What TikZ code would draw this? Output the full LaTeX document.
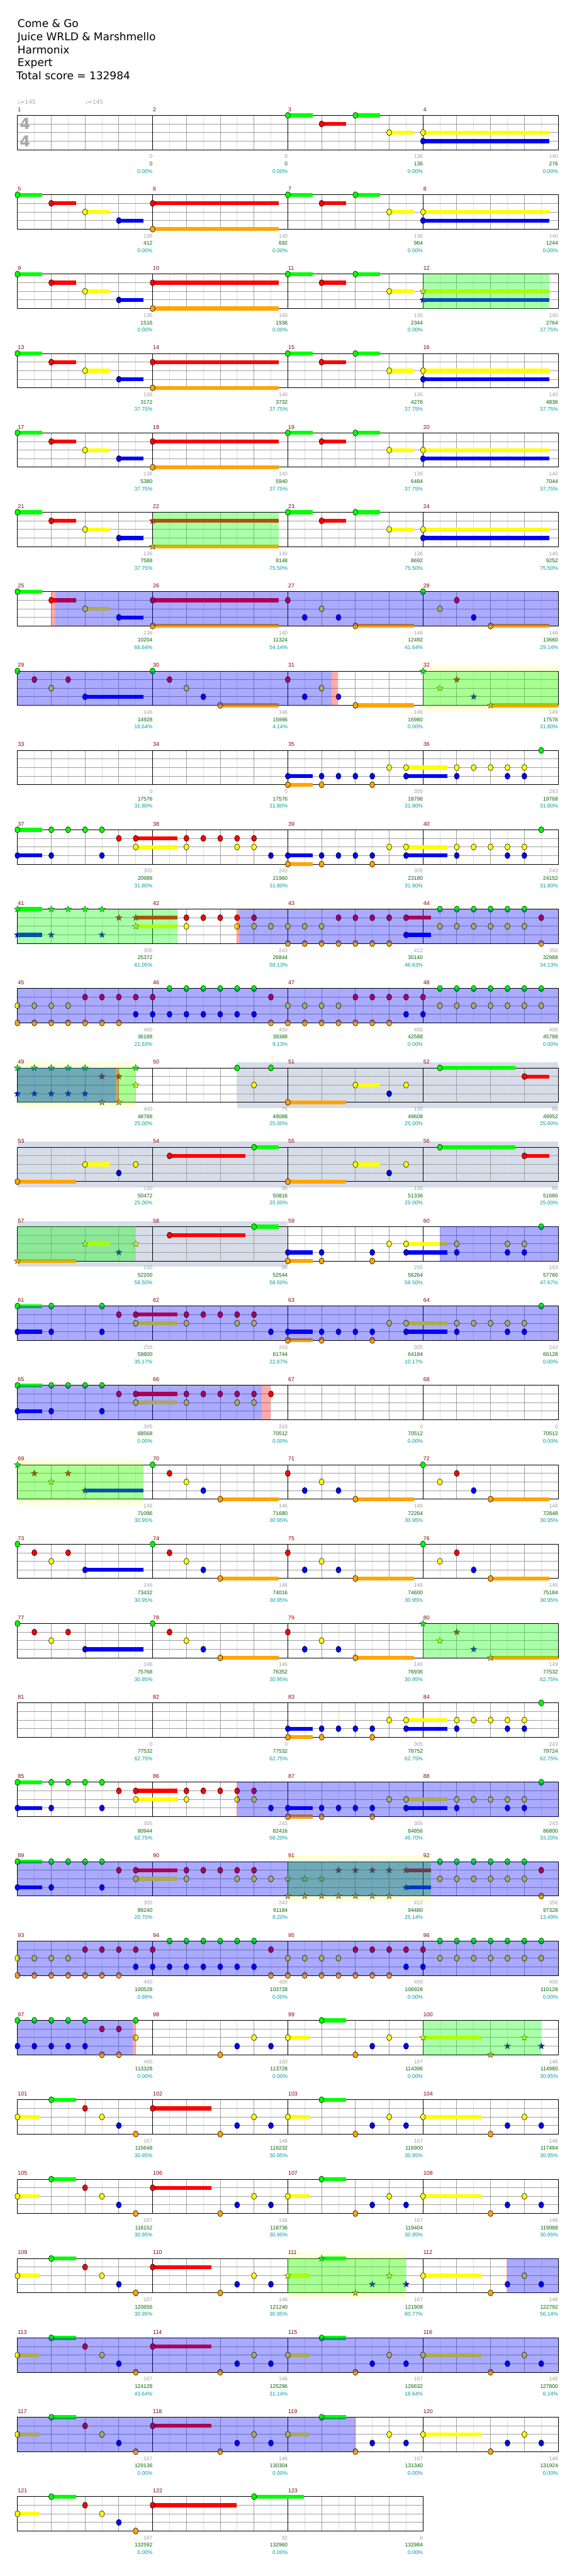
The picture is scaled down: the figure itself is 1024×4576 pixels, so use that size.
\documentclass[tikz,border=0pt]{standalone}
\usepackage{fontspec}
\setmainfont{DejaVu Sans}
\newfontfamily\scf{Liberation Sans}
\usetikzlibrary{shapes.geometric}
\definecolor{cG}{RGB}{0,255,0}
\definecolor{cR}{RGB}{255,0,0}
\definecolor{cY}{RGB}{255,255,0}
\definecolor{cB}{RGB}{0,0,255}
\definecolor{cO}{RGB}{255,165,0}
\definecolor{lgt}{RGB}{222,222,222}
\definecolor{med}{RGB}{160,160,160}
\definecolor{bgy}{RGB}{255,255,218}
\definecolor{bgb}{RGB}{214,221,232}
\definecolor{mred}{RGB}{139,0,0}
\definecolor{sgr}{RGB}{160,160,160}
\definecolor{sgn}{RGB}{0,100,0}
\definecolor{stl}{RGB}{0,155,155}
\definecolor{tgr}{RGB}{168,168,168}
\tikzset{
 lgtline/.style={draw=lgt, line width=0.8pt},
 medline/.style={draw=med, line width=1pt},
 barline/.style={draw=black, line width=1pt},
 notebody/.style={draw=black, line width=0.6pt},
 starbody/.style={star, star points=5, star point ratio=2.4, minimum size=12pt, inner sep=0pt, draw=black!75, line width=0.5pt},
 mnum/.style={anchor=base west, text=mred, font=\scf\fontsize{10}{10}\selectfont, inner sep=0pt},
 sc/.style={anchor=base east, font=\scf\fontsize{9.5}{10}\selectfont, inner sep=0pt},
 title/.style={anchor=base west, inner sep=0pt, font=\fontsize{19}{23}\selectfont},
 tempo/.style={anchor=west, inner sep=0pt, text=sgr, font=\fontsize{10}{10}\selectfont},
}
\newcommand\Nt[3]{\foreach \k in {#3}{\draw[notebody,fill=#2] (\k,#1) ellipse [x radius=4.5pt, y radius=5.5pt];}}
\newcommand\Su[4]{\fill[#2] ([yshift=3.5pt]#3,#1) rectangle ([yshift=-3.5pt]#4,#1);\draw[notebody,fill=#2] (#3,#1) ellipse [x radius=4.5pt, y radius=5.5pt];}
\newcommand\St[3]{\foreach \k in {#3}{\node[starbody,fill=#2] at (\k,#1) {};}}
\newcommand\Sst[4]{\fill[#2] ([yshift=3.5pt]#3,#1) rectangle ([yshift=-3.5pt]#4,#1);\node[starbody,fill=#2] at (#3,#1) {};}
\newcommand\Ov[3]{\fill[#1,opacity=0.3333] (#2,0) rectangle (#3,4);}
\newcommand\Bg[3]{\fill[#1] ([yshift=10pt]#2,0) rectangle ([yshift=-10pt]#3,4);}
\newcommand\Sco[4]{\node[sc,text=sgr] at ([yshift=-15.5pt]#1,4) {#2};\node[sc,text=sgn] at ([yshift=-28.5pt]#1,4) {#3};\node[sc,text=stl] at ([yshift=-41.5pt]#1,4) {#4\%};}
\newcommand\Staff[2]{%
 \pgfmathtruncatemacro\Ne{8*#1}%
 \pgfmathtruncatemacro\Nl{8*#1-1}%
 \foreach \i in {1,3,...,\Nl}{\draw[lgtline] (\i,0)--(\i,4);}%
 \foreach \i in {2,4,6,10,12,14,18,20,22,26,28,30}{\ifnum\i<\Ne \draw[medline] (\i,0)--(\i,4);\fi}%
 \foreach \j in {1,2,3}{\draw[medline] (0,\j)--(\Ne,\j);}%
 \foreach \i in {8,16,...,\Nl}{\draw[barline] (\i,0)--(\i,4);}%
 \draw[barline] (0,0) rectangle (\Ne,4);%
 \foreach \m in {1,...,#1}{\pgfmathtruncatemacro\mm{#2+\m-1}\pgfmathtruncatemacro\mx{8*(\m-1)}\node[mnum] at ([xshift=0.5pt,yshift=7pt]\mx,0) {\mm};}%
}
\newcommand\PatAa{\Su0{cG}{0}{1.46}\Su1{cR}{2}{3.46}\Su2{cY}{4}{5.46}\Su3{cB}{6}{7.46}}
\newcommand\PatAb{\Su1{cR}{8}{15.46}\Su4{cO}{8}{15.46}}
\newcommand\PatBa{\Su0{cG}{16}{17.46}\Su1{cR}{18}{19.46}\Su0{cG}{20}{21.46}\Su2{cY}{22}{23.46}}
\newcommand\PatBb{\Su2{cY}{24}{31.46}\Su3{cB}{24}{31.46}}
\newcommand\PatCa{\Nt0{cG}{0}\Nt1{cR}{1,3}\Nt2{cY}{2}\Su3{cB}{4}{7.46}}
\newcommand\PatCb{\Nt0{cG}{8}\Nt1{cR}{9}\Nt2{cY}{10}\Nt3{cB}{11}\Su4{cO}{12}{15.46}}
\newcommand\PatDa{\Nt1{cR}{16}\Nt3{cB}{17,19}\Nt2{cY}{18}\Su4{cO}{20}{23.46}}
\newcommand\PatDb{\Nt0{cG}{24}\Nt2{cY}{25}\Nt1{cR}{26}\Nt3{cB}{27}\Su4{cO}{28}{31.46}}
\newcommand\PatE{\Su3{cB}{16}{17.46}\Nt3{cB}{18,19,20,21}\Su4{cO}{16}{17.46}\Nt4{cO}{18,21}\Nt2{cY}{22}\Su2{cY}{23}{25.46}\Su3{cB}{23}{25.46}\Nt2{cY}{26,27,28,29,30}\Nt3{cB}{26,29,30}\Nt0{cG}{31}}
\newcommand\PatF{\Su0{cG}{0}{1.46}\Nt0{cG}{2,3,4,5}\Nt1{cR}{6}\Su1{cR}{7}{9.46}\Nt1{cR}{10,11,12,13,14}\Su2{cY}{7}{9.46}\Nt2{cY}{10,13,14}\Su3{cB}{0}{1.46}\Nt3{cB}{2,5,15}}
\newcommand\PatH{\Nt2{cY}{16,17,18}\Nt4{cO}{16,17,18,19,20,21,22}\Nt1{cR}{19,20,21,22}\Su1{cR}{23}{24.46}\Su3{cB}{23}{24.46}\Nt0{cG}{25,26,27,28,29,30}\Nt2{cY}{25,26,27,28,29,30}\Nt1{cR}{31}\Nt4{cO}{31}}
\newcommand\PatI{\Nt2{cY}{0,1,2,3}\Nt4{cO}{0,1,2,3,4,5,6}\Nt1{cR}{4,5,6,7,8}\Nt3{cB}{7,8,9,10,11,12,13,14}\Nt0{cG}{9,10,11,12,13,14}\Nt1{cR}{15}\Nt4{cO}{15}\Nt2{cY}{16,17,18,19}\Nt4{cO}{16,17,18,19,20,21,22}\Nt1{cR}{20,21,22,23,24}\Nt3{cB}{23,24}\Nt0{cG}{25,26,27,28,29,30,31}\Nt2{cY}{25,26,27,28,29,30,31}}
\newcommand\PatJa{\Su2{cY}{0}{1.33}\Su0{cG}{2}{3.46}\Nt1{cR}{4}\Nt2{cY}{5}\Nt3{cB}{6}\Nt4{cO}{7}\Su1{cR}{8}{11.48}\Nt4{cO}{12}\Nt3{cB}{13,15}\Nt2{cY}{14}}
\newcommand\PatJb{\Su2{cY}{16}{17.3}\Su0{cG}{18}{19.46}\Nt4{cO}{20}\Nt3{cB}{21,23}\Nt2{cY}{22}}
\newcommand\PatJc{\Su2{cY}{24}{27.46}\Nt4{cO}{28}\Nt3{cB}{29,31}\Nt2{cY}{30}}
\newcommand\PatK{\Su4{cO}{16}{19.46}\Su2{cY}{20}{21.46}\Nt3{cB}{22}\Nt2{cY}{23}\Su0{cG}{25}{29.46}\Su1{cR}{30}{31.46}}
\begin{document}
\begin{tikzpicture}
\useasboundingbox[fill=white] (0,0) rectangle (1024pt,-4576pt);
% header
\node[title] (t1) at (31pt,-49pt) {Come \& Go};
\node[title] (t2) at (31pt,-72pt) {Juice WRLD \& Marshmello};
\node[title] (t3) at (31pt,-95pt) {Harmonix};
\node[title] (t4) at (31pt,-118pt) {Expert};
\node[title] (t5) at (29pt,-141pt) {Total score = 132984};
\node[tempo] (tp1) at (31pt,-181pt) {♩=145};
\node[tempo] (tp2) at (151pt,-181pt) {♩=145};
% row 1
\begin{scope}[shift={(31pt,-205pt)},x=30pt,y=-15.25pt]
\Staff{4}{1}
\node[text=tgr,font=\bfseries\fontsize{27}{27}\selectfont,inner sep=0pt] (ts1) at (0.45,1) {4};
\node[text=tgr,font=\bfseries\fontsize{27}{27}\selectfont,inner sep=0pt] (ts2) at (0.45,3) {4};
\PatBa\PatBb
\Sco{8}{0}{0}{0.00}\Sco{16}{0}{0}{0.00}\Sco{24}{136}{136}{0.00}\Sco{32}{140}{276}{0.00}
\end{scope}
% row 2
\begin{scope}[shift={(31pt,-346pt)},x=30pt,y=-15.25pt]
\Staff{4}{5}\PatAa\PatAb\PatBa\PatBb
\Sco{8}{136}{412}{0.00}\Sco{16}{140}{692}{0.00}\Sco{24}{136}{964}{0.00}\Sco{32}{140}{1244}{0.00}
\end{scope}
% row 3
\begin{scope}[shift={(31pt,-487pt)},x=30pt,y=-15.25pt]
\Staff{4}{9}\PatAa\PatAb\PatBa\Sst2{cY}{24}{31.46}\Sst3{cB}{24}{31.46}
\Ov{cG}{24}{31.46}
\Sco{8}{136}{1516}{0.00}\Sco{16}{140}{1936}{0.00}\Sco{24}{136}{2344}{0.00}\Sco{32}{140}{2764}{37.75}
\end{scope}
% row 4
\begin{scope}[shift={(31pt,-628pt)},x=30pt,y=-15.25pt]
\Staff{4}{13}\PatAa\PatAb\PatBa\PatBb
\Sco{8}{136}{3172}{37.75}\Sco{16}{140}{3732}{37.75}\Sco{24}{136}{4276}{37.75}\Sco{32}{140}{4836}{37.75}
\end{scope}
% row 5
\begin{scope}[shift={(31pt,-769pt)},x=30pt,y=-15.25pt]
\Staff{4}{17}\PatAa\PatAb\PatBa\PatBb
\Sco{8}{136}{5380}{37.75}\Sco{16}{140}{5940}{37.75}\Sco{24}{136}{6484}{37.75}\Sco{32}{140}{7044}{37.75}
\end{scope}
% row 6
\begin{scope}[shift={(31pt,-910pt)},x=30pt,y=-15.25pt]
\Staff{4}{21}\PatAa\Sst1{cR}{8}{15.46}\Sst4{cO}{8}{15.46}\PatBa\PatBb
\Ov{cG}{8}{15.46}
\Sco{8}{136}{7588}{37.75}\Sco{16}{140}{8148}{75.50}\Sco{24}{136}{8692}{75.50}\Sco{32}{140}{9252}{75.50}
\end{scope}
% row 7
\begin{scope}[shift={(31pt,-1051pt)},x=30pt,y=-15.25pt]
\Staff{4}{25}\PatAa\PatAb\PatDa\PatDb
\Ov{cR}{2}{2.26}\Ov{cB}{2.26}{32}
\Sco{8}{136}{10204}{66.64}\Sco{16}{140}{11324}{54.14}\Sco{24}{146}{12492}{41.64}\Sco{32}{146}{13660}{29.14}
\end{scope}
% row 8
\begin{scope}[shift={(31pt,-1192pt)},x=30pt,y=-15.25pt]
\Bg{bgy}{24}{32}
\Staff{4}{29}\PatCa\PatCb\PatDa\St0{cG}{24}\St2{cY}{25}\St1{cR}{26}\St3{cB}{27}\Sst4{cO}{28}{32}
\Ov{cB}{0}{18.6}\Ov{cR}{18.6}{18.96}\Ov{cG}{24}{32}
\Sco{8}{146}{14928}{16.64}\Sco{16}{146}{15996}{4.14}\Sco{24}{146}{16980}{0.00}\Sco{32}{149}{17576}{31.80}
\end{scope}
% row 9
\begin{scope}[shift={(31pt,-1333pt)},x=30pt,y=-15.25pt]
\Staff{4}{33}\PatE
\Sco{8}{0}{17576}{31.80}\Sco{16}{0}{17576}{31.80}\Sco{24}{305}{18796}{31.80}\Sco{32}{243}{19768}{31.80}
\end{scope}
% row 10
\begin{scope}[shift={(31pt,-1474pt)},x=30pt,y=-15.25pt]
\Staff{4}{37}\PatF\PatE
\Sco{8}{305}{20988}{31.80}\Sco{16}{243}{21960}{31.80}\Sco{24}{305}{23180}{31.80}\Sco{32}{243}{24152}{31.80}
\end{scope}
% row 11
\begin{scope}[shift={(31pt,-1615pt)},x=30pt,y=-15.25pt]
\Staff{4}{41}
\Sst0{cG}{0}{1.46}\St0{cG}{2,3,4,5}\St1{cR}{6}\Sst1{cR}{7}{9.46}\Sst2{cY}{7}{9.46}\Sst3{cB}{0}{1.46}\St3{cB}{2,5}
\Nt1{cR}{10,11,12,13,14}\Nt2{cY}{10,13,14,15}\PatH
\Ov{cG}{0}{9.48}\Ov{cR}{12.97}{13.1}\Ov{cB}{13.1}{32}
\Sco{8}{305}{25372}{61.05}\Sco{16}{243}{26844}{59.13}\Sco{24}{412}{30140}{46.63}\Sco{32}{356}{32988}{34.13}
\end{scope}
% row 12
\begin{scope}[shift={(31pt,-1756pt)},x=30pt,y=-15.25pt]
\Staff{4}{45}\PatI
\Ov{cB}{0}{32}
\Sco{8}{400}{36188}{21.63}\Sco{16}{400}{39388}{9.13}\Sco{24}{400}{42588}{0.00}\Sco{32}{400}{45788}{0.00}
\end{scope}
% row 13
\begin{scope}[shift={(31pt,-1897pt)},x=30pt,y=-15.25pt]
\Bg{bgy}{0}{7}\Bg{bgb}{13}{32}
\Staff{4}{49}
\St0{cG}{0,1,2,3,4,7}\St3{cB}{0,1,2,3,4}\St1{cR}{5,6}\St2{cY}{7}\St4{cO}{5,6}
\Nt0{cG}{13,15}\Nt2{cY}{14}\PatK
\Ov{cG}{0}{7}\Ov{cB}{0}{5.83}\Ov{cR}{5.83}{6}
\Sco{8}{400}{48788}{25.00}\Sco{16}{75}{49088}{25.00}\Sco{24}{130}{49608}{25.00}\Sco{32}{86}{49952}{25.00}
\end{scope}
% row 14
\begin{scope}[shift={(31pt,-2038pt)},x=30pt,y=-15.25pt]
\Bg{bgb}{0}{32}
\Staff{4}{53}
\Su4{cO}{0}{3.48}\Su2{cY}{4}{5.48}\Nt3{cB}{6}\Nt2{cY}{7}\Su1{cR}{9}{13.48}\Su0{cG}{14}{15.46}\PatK
\Sco{8}{130}{50472}{25.00}\Sco{16}{86}{50816}{25.00}\Sco{24}{130}{51336}{25.00}\Sco{32}{86}{51680}{25.00}
\end{scope}
% row 15
\begin{scope}[shift={(31pt,-2179pt)},x=30pt,y=-15.25pt]
\Bg{bgb}{0}{16}
\Staff{4}{57}
\Sst4{cO}{0}{3.48}\Sst2{cY}{4}{5.48}\St3{cB}{6}\St2{cY}{7}\Su1{cR}{9}{13.48}\Su0{cG}{14}{15.46}
\Su3{cB}{16}{17.46}\Nt3{cB}{18,21}\Su4{cO}{16}{17.46}\Nt4{cO}{18,21}\Nt2{cY}{22}\Su2{cY}{23}{25.46}\Su3{cB}{23}{25.46}\Nt2{cY}{26,29,30}\Nt3{cB}{26,29,30}\Nt0{cG}{31}
\Ov{cG}{0}{7}\Ov{cB}{25}{32}
\Sco{8}{130}{52200}{58.50}\Sco{16}{86}{52544}{58.50}\Sco{24}{255}{56264}{58.50}\Sco{32}{193}{57760}{47.67}
\end{scope}
% row 16
\begin{scope}[shift={(31pt,-2320pt)},x=30pt,y=-15.25pt]
\Staff{4}{61}
\Su0{cG}{0}{1.46}\Nt0{cG}{2,5}\Nt1{cR}{6}\Su1{cR}{7}{9.46}\Nt1{cR}{10,11,12,13,14}\Su2{cY}{7}{9.46}\Nt2{cY}{10,13,14}\Su3{cB}{0}{1.46}\Nt3{cB}{2,5,15}\PatE
\Ov{cB}{0}{32}
\Sco{8}{255}{59800}{35.17}\Sco{16}{243}{61744}{22.67}\Sco{24}{305}{64184}{10.17}\Sco{32}{243}{66128}{0.00}
\end{scope}
% row 17
\begin{scope}[shift={(31pt,-2461pt)},x=30pt,y=-15.25pt]
\Staff{4}{65}
\Su0{cG}{0}{1.46}\Nt0{cG}{2,3,4,5}\Nt1{cR}{6}\Su1{cR}{7}{9.46}\Nt1{cR}{10,11,12,13,14,15}\Su2{cY}{7}{9.46}\Nt2{cY}{10,13,14}\Su3{cB}{0}{1.46}\Nt3{cB}{2,5}
\Ov{cB}{0}{14.46}\Ov{cR}{14.46}{14.98}
\Sco{8}{305}{68568}{0.00}\Sco{16}{243}{70512}{0.00}\Sco{24}{0}{70512}{0.00}\Sco{32}{0}{70512}{0.00}
\end{scope}
% row 18
\begin{scope}[shift={(31pt,-2602pt)},x=30pt,y=-15.25pt]
\Bg{bgy}{0}{7.46}
\Staff{4}{69}
\St0{cG}{0}\St1{cR}{1,3}\St2{cY}{2}\Sst3{cB}{4}{7.46}\PatCb\PatDa\PatDb
\Ov{cG}{0}{7.46}
\Sco{8}{146}{71096}{30.95}\Sco{16}{146}{71680}{30.95}\Sco{24}{146}{72264}{30.95}\Sco{32}{146}{72848}{30.95}
\end{scope}
% row 19
\begin{scope}[shift={(31pt,-2743pt)},x=30pt,y=-15.25pt]
\Staff{4}{73}\PatCa\PatCb\PatDa\PatDb
\Sco{8}{146}{73432}{30.95}\Sco{16}{146}{74016}{30.95}\Sco{24}{146}{74600}{30.95}\Sco{32}{146}{75184}{30.95}
\end{scope}
% row 20
\begin{scope}[shift={(31pt,-2884pt)},x=30pt,y=-15.25pt]
\Staff{4}{77}\PatCa\PatCb\PatDa\St0{cG}{24}\St2{cY}{25}\St1{cR}{26}\St3{cB}{27}\Sst4{cO}{28}{32}
\Ov{cG}{24}{32}
\Sco{8}{146}{75768}{30.95}\Sco{16}{146}{76352}{30.95}\Sco{24}{146}{76936}{30.95}\Sco{32}{149}{77532}{62.75}
\end{scope}
% row 21
\begin{scope}[shift={(31pt,-3025pt)},x=30pt,y=-15.25pt]
\Staff{4}{81}\PatE
\Sco{8}{0}{77532}{62.75}\Sco{16}{0}{77532}{62.75}\Sco{24}{305}{78752}{62.75}\Sco{32}{243}{79724}{62.75}
\end{scope}
% row 22
\begin{scope}[shift={(31pt,-3166pt)},x=30pt,y=-15.25pt]
\Staff{4}{85}\PatF\PatE
\Ov{cR}{12.95}{13}\Ov{cB}{13}{32}
\Sco{8}{305}{80944}{62.75}\Sco{16}{243}{82416}{58.20}\Sco{24}{305}{84856}{45.70}\Sco{32}{243}{86800}{33.20}
\end{scope}
% row 23
\begin{scope}[shift={(31pt,-3307pt)},x=30pt,y=-15.25pt]
\Bg{bgy}{16}{24.46}
\Staff{4}{89}
\Su0{cG}{0}{1.46}\Nt0{cG}{2,3,4,5}\Nt1{cR}{6}\Su1{cR}{7}{9.46}\Nt1{cR}{10,11,12,13,14}\Su2{cY}{7}{9.46}\Nt2{cY}{10,13,14,15}\Su3{cB}{0}{1.46}\Nt3{cB}{2,5}
\St2{cY}{16,17,18}\St4{cO}{16,17,18,19,20,21,22}\St1{cR}{19,20,21,22}\Sst1{cR}{23}{24.46}\Sst3{cB}{23}{24.46}
\Nt0{cG}{25,26,27,28,29,30}\Nt2{cY}{25,26,27,28,29,30}\Nt1{cR}{31}\Nt4{cO}{31}
\Ov{cG}{16}{24.46}\Ov{cB}{0}{32}
\Sco{8}{305}{89240}{20.70}\Sco{16}{243}{91184}{8.20}\Sco{24}{412}{94480}{25.14}\Sco{32}{356}{97328}{13.49}
\end{scope}
% row 24
\begin{scope}[shift={(31pt,-3448pt)},x=30pt,y=-15.25pt]
\Staff{4}{93}\PatI
\Ov{cB}{0}{32}
\Sco{8}{400}{100528}{0.99}\Sco{16}{400}{103728}{0.00}\Sco{24}{400}{106928}{0.00}\Sco{32}{400}{110128}{0.00}
\end{scope}
% row 25
\begin{scope}[shift={(31pt,-3589pt)},x=30pt,y=-15.25pt]
\Staff{4}{97}
\Nt0{cG}{0,1,2,3,4,7}\Nt1{cR}{5,6}\Nt2{cY}{7}\Nt3{cB}{0,1,2,3,4}\Nt4{cO}{5,6}
\Nt4{cO}{12}\Nt3{cB}{13,15}\Nt2{cY}{14}\PatJb
\Sst2{cY}{24}{27.46}\St4{cO}{28}\St3{cB}{29,31}\St2{cY}{30}
\Ov{cB}{0}{6.83}\Ov{cR}{6.83}{7}\Ov{cG}{24}{31}
\Sco{8}{400}{113328}{0.00}\Sco{16}{100}{113728}{0.00}\Sco{24}{167}{114396}{0.00}\Sco{32}{146}{114980}{30.95}
\end{scope}
% row 26
\begin{scope}[shift={(31pt,-3730pt)},x=30pt,y=-15.25pt]
\Staff{4}{101}\PatJa\PatJb\PatJc
\Sco{8}{167}{115648}{30.95}\Sco{16}{146}{116232}{30.95}\Sco{24}{167}{116900}{30.95}\Sco{32}{146}{117484}{30.95}
\end{scope}
% row 27
\begin{scope}[shift={(31pt,-3871pt)},x=30pt,y=-15.25pt]
\Staff{4}{105}\PatJa\PatJb\PatJc
\Sco{8}{167}{118152}{30.95}\Sco{16}{146}{118736}{30.95}\Sco{24}{167}{119404}{30.95}\Sco{32}{146}{119988}{30.95}
\end{scope}
% row 28
\begin{scope}[shift={(31pt,-4012pt)},x=30pt,y=-15.25pt]
\Bg{bgy}{16}{23}
\Staff{4}{109}\PatJa
\Sst2{cY}{16}{17.3}\Sst0{cG}{18}{19.46}\St4{cO}{20}\St3{cB}{21,23}\St2{cY}{22}
\PatJc
\Ov{cG}{16}{23}\Ov{cR}{28.95}{29}\Ov{cB}{29}{32}
\Sco{8}{167}{120656}{30.95}\Sco{16}{146}{121240}{30.95}\Sco{24}{167}{121908}{60.77}\Sco{32}{146}{122792}{56.14}
\end{scope}
% row 29
\begin{scope}[shift={(31pt,-4153pt)},x=30pt,y=-15.25pt]
\Staff{4}{113}\PatJa\PatJb\PatJc
\Ov{cB}{0}{32}
\Sco{8}{167}{124128}{43.64}\Sco{16}{146}{125296}{31.14}\Sco{24}{167}{126632}{18.64}\Sco{32}{146}{127800}{6.14}
\end{scope}
% row 30
\begin{scope}[shift={(31pt,-4294pt)},x=30pt,y=-15.25pt]
\Staff{4}{117}\PatJa\PatJb\PatJc
\Ov{cB}{0}{19.96}\Ov{cR}{19.96}{20.02}
\Sco{8}{167}{129136}{0.00}\Sco{16}{146}{130304}{0.00}\Sco{24}{167}{131340}{0.00}\Sco{32}{146}{131924}{0.00}
\end{scope}
% row 31
\begin{scope}[shift={(31pt,-4435pt)},x=30pt,y=-15.25pt]
\Staff{3}{121}
\Su2{cY}{0}{1.33}\Su0{cG}{2}{3.46}\Nt1{cR}{4}\Nt2{cY}{5}\Nt3{cB}{6}\Nt4{cO}{7}\Su1{cR}{8}{12.98}\Su0{cG}{14}{16.96}
\Sco{8}{167}{132592}{0.00}\Sco{16}{92}{132960}{0.00}\Sco{24}{6}{132984}{0.00}
\end{scope}
\end{tikzpicture}
\end{document}
